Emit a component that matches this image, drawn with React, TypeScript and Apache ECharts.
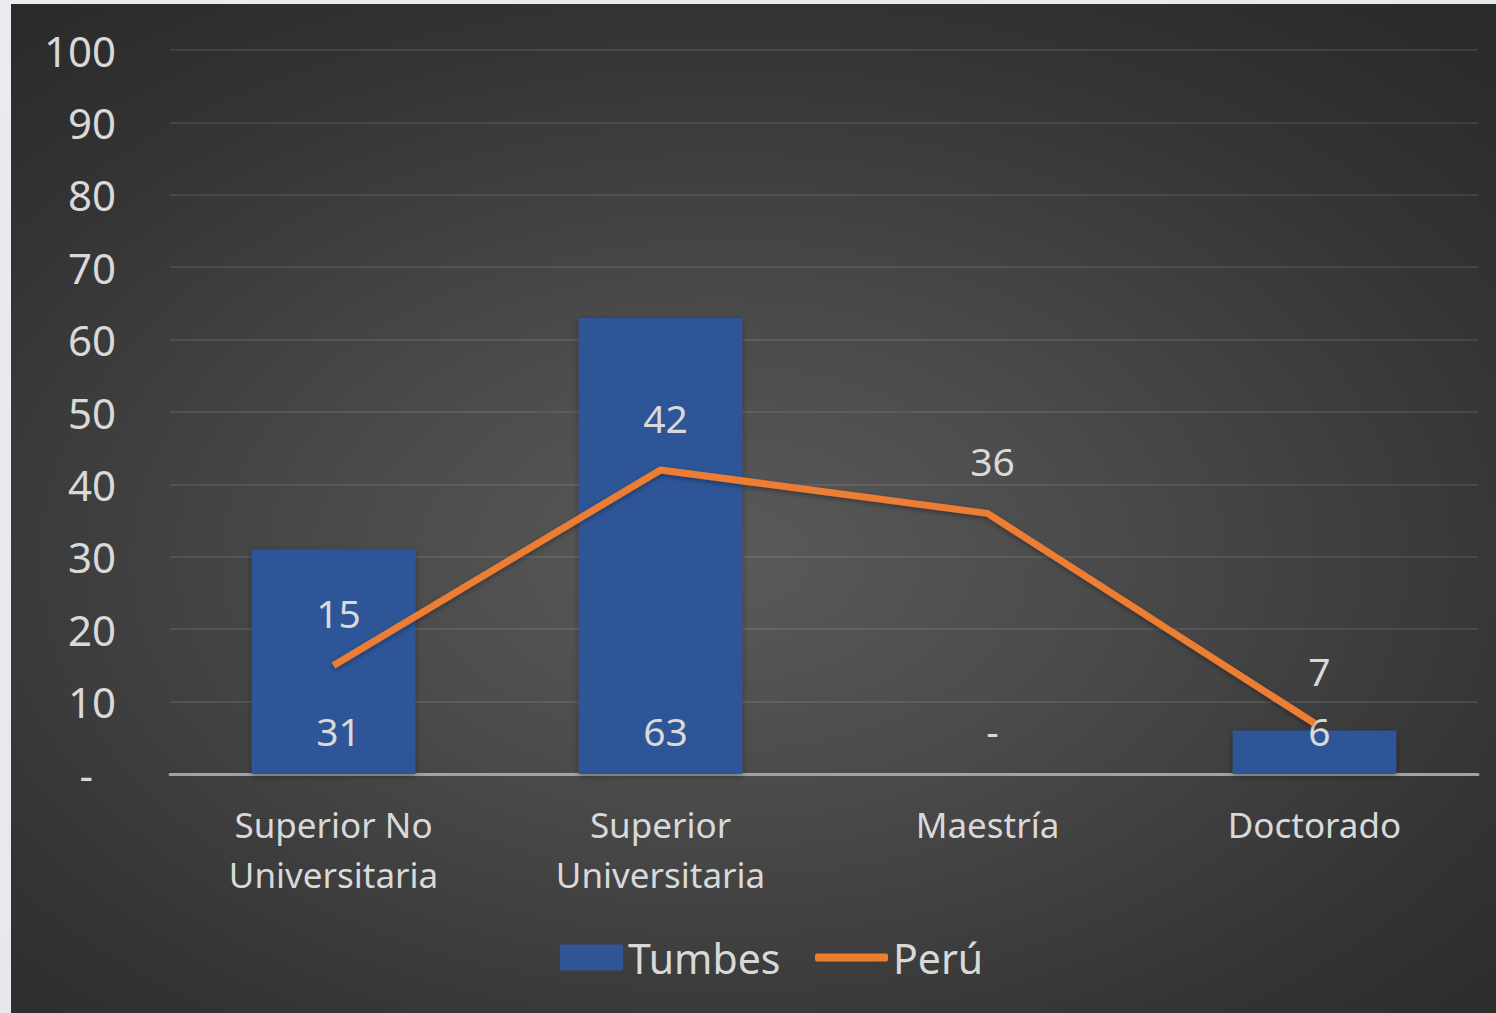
import React, { useEffect, useRef } from "react";
import * as echarts from "echarts";

const categories = ["Superior No\nUniversitaria", "Superior\nUniversitaria", "Maestría", "Doctorado"];
const tumbesValues = [31, 63, 0, 6];
const peruValues = [15, 42, 36, 7];
const yTicks = { min: 0, max: 100, interval: 10 };

const FONT = "'Noto Sans', 'Open Sans', sans-serif";
const TEXT = "#d9d9d9";

export default function App() {
  const ref = useRef<HTMLDivElement>(null);
  useEffect(() => {
    if (!ref.current) return;
    const chart = echarts.init(ref.current, undefined, { renderer: "svg" });
    chart.setOption({
      animation: false,
      textStyle: { fontFamily: FONT },
      grid: { left: 159, right: 18, top: 46, bottom: 239, containLabel: false },
      legend: [
        {
          left: 549,
          top: 933,
          padding: 0,
          itemWidth: 63,
          itemHeight: 26,
          textStyle: { color: TEXT, fontSize: 41, fontFamily: FONT },
          data: [{ name: "Tumbes", icon: "rect" }],
        },
        {
          left: 804,
          top: 933,
          padding: 0,
          itemWidth: 73,
          itemHeight: 8,
          textStyle: { color: TEXT, fontSize: 41, fontFamily: FONT },
          data: [{ name: "Perú", icon: "roundRect" }],
        },
      ],
      xAxis: {
        type: "category",
        data: categories,
        axisLine: { lineStyle: { color: "#a3a3a3", width: 3 } },
        axisTick: { show: false },
        axisLabel: {
          color: TEXT,
          fontSize: 35,
          fontFamily: FONT,
          lineHeight: 50,
          margin: 25,
          interval: 0,
        },
      },
      yAxis: {
        type: "value",
        min: yTicks.min,
        max: yTicks.max,
        interval: yTicks.interval,
        axisLine: { show: false },
        axisTick: { show: false },
        splitLine: { lineStyle: { color: "rgba(255,255,255,0.09)", width: 2 } },
        axisLabel: {
          color: TEXT,
          fontSize: 42,
          fontFamily: FONT,
          margin: 54,
          formatter: (v: number) => (v === 0 ? "{d|-}" : String(v)),
          rich: { d: { color: TEXT, fontSize: 42, fontFamily: FONT, padding: [0, 23, 0, 0] } },
        },
      },
      series: [
        {
          name: "Tumbes",
          type: "bar",
          data: tumbesValues,
          barWidth: "50%",
          itemStyle: {
            color: "#2f5597",
            shadowColor: "rgba(0,0,0,0.35)",
            shadowBlur: 6,
            shadowOffsetY: 2,
          },
          label: {
            show: true,
            position: "insideBottom",
            distance: 24,
            offset: [5, 0],
            color: TEXT,
            fontSize: 39,
            fontFamily: FONT,
            formatter: (p: any) => (p.value === 0 ? "-" : String(p.value)),
          },
        },
        {
          name: "Perú",
          type: "line",
          data: peruValues,
          symbol: "circle",
          symbolSize: 0.1,
          showSymbol: true,
          itemStyle: { color: "#ed7d31" },
          lineStyle: {
            color: "#ed7d31",
            width: 7,
            shadowColor: "rgba(0,0,0,0.35)",
            shadowBlur: 5,
            shadowOffsetY: 2,
          },
          label: {
            show: true,
            position: "top",
            distance: 33,
            offset: [5, 0],
            color: TEXT,
            fontSize: 39,
            fontFamily: FONT,
          },
        },
      ],
    });
    return () => chart.dispose();
  }, []);

  return (
    <div
      style={{
        position: "fixed",
        left: 0,
        top: 0,
        width: 1496,
        height: 1013,
        background: "linear-gradient(160deg, #e9ebee 0%, #e6e8eb 70%, #d2d3d7 72%, #d0d1d5 100%)",
        overflow: "hidden",
      }}
    >
      <div
        style={{
          position: "absolute",
          left: 11,
          top: 4,
          width: 1485,
          height: 1009,
          background: "radial-gradient(ellipse 75% 70% at 48% 55%, #5a5a5a 0%, #4a4a4a 35%, #343434 75%, #2a2a2a 100%)",
        }}
      >
        <div ref={ref} style={{ width: 1485, height: 1009 }} />
      </div>
    </div>
  );
}
